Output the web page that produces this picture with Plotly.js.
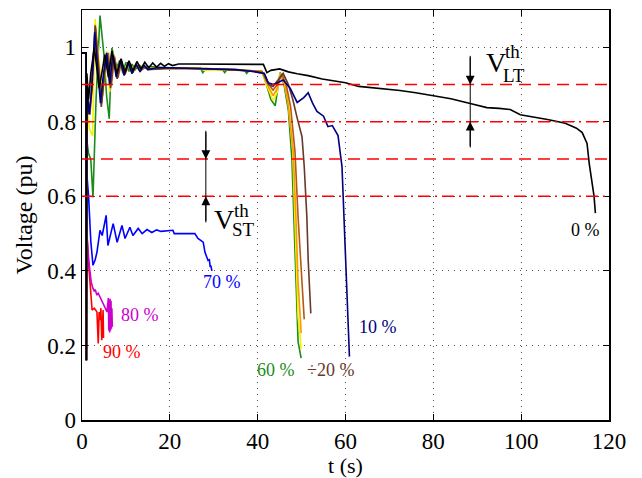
<!DOCTYPE html>
<html>
<head>
<meta charset="utf-8">
<script src="https://cdn.plot.ly/plotly-3.0.1.min.js"></script>
<style>html,body{margin:0;padding:0;background:#fff;}#chart{width:642px;height:478px;}</style>
</head>
<body>
<div id="chart"></div>
<script>
// ---- data ----
const seriesNames = ['90 %', '80 %', '70 %', '60 %', '50 %', '40 %', '30 %', '20 %', '10 %', '0 %'];
const seriesColors = ['#ff0000', '#cc00cc', '#0000ff', '#1a8c1a', '#f2f200', '#ff9900', '#b35a10', '#66392b', '#000080', '#000000'];

const t90 = [0, 0.95, 1.0, 1.1, 1.5, 2.0, 2.3, 2.8, 3.4, 3.7, 3.9, 4.1, 4.3, 4.5, 4.7, 4.8, 4.9];
const v90 = [0.985, 0.985, 0.16, 0.5, 0.42, 0.33, 0.295, 0.3, 0.29, 0.205, 0.29, 0.268, 0.3, 0.214, 0.29, 0.295, 0.22];

const t80 = [0, 0.95, 1.0, 1.1, 1.6, 2.1, 2.5, 2.8, 3.0, 3.4, 3.7, 4.1, 4.5, 5.2, 5.7, 6.0, 6.1, 6.2, 6.3, 6.4, 6.5, 6.6, 6.7, 6.8, 6.9];
const v80 = [0.985, 0.985, 0.16, 0.5, 0.42, 0.37, 0.353, 0.345, 0.35, 0.335, 0.34, 0.33, 0.316, 0.303, 0.29, 0.327, 0.24, 0.32, 0.235, 0.325, 0.24, 0.32, 0.245, 0.3, 0.25];

const t70 = [0, 0.95, 1.0, 1.1, 1.5, 2.0, 2.5, 3.0, 3.4, 4.1, 4.6, 5.5, 5.9, 6.5, 7.1, 8.0, 9.1, 9.8, 10.9, 11.6, 12.8, 13.7, 14.8, 15.9, 17, 18, 20.7, 21, 25.7, 26.4, 27.6, 28.0, 28.7, 29.0, 29.2, 29.3, 29.6];
const v70 = [0.985, 0.985, 0.16, 0.66, 0.6, 0.48, 0.415, 0.43, 0.45, 0.509, 0.495, 0.549, 0.468, 0.5, 0.527, 0.477, 0.522, 0.487, 0.517, 0.495, 0.514, 0.5, 0.511, 0.503, 0.51, 0.506, 0.509, 0.5, 0.5, 0.487, 0.477, 0.45, 0.428, 0.43, 0.41, 0.415, 0.40];

const t60 = [0, 0.95, 1.0, 1.1, 1.5, 2.0, 2.5, 3.2, 4.1, 5.0, 5.6, 6.2, 6.8, 7.9, 8.6, 9.3, 10.0, 10.7, 11.4, 12.1, 13, 14, 15, 20, 27, 27.5, 28.2, 32, 32.5, 33, 37, 37.5, 38, 41, 42, 43, 44, 45.1, 46, 47, 47.8, 49, 49.2, 49.9];
const v60 = [0.985, 0.985, 0.16, 0.75, 0.715, 0.7, 0.597, 0.86, 1.085, 0.98, 0.87, 0.808, 0.998, 0.946, 0.965, 0.93, 0.96, 0.935, 0.955, 0.94, 0.952, 0.943, 0.948, 0.945, 0.944, 0.932, 0.943, 0.94, 0.932, 0.94, 0.938, 0.93, 0.937, 0.935, 0.9, 0.86, 0.843, 0.932, 0.9, 0.83, 0.7, 0.32, 0.21, 0.166];

const t50 = [0, 0.95, 1.0, 1.1, 1.7, 2.4, 3.0, 3.7, 4.8, 5.6, 6.3, 7.0, 7.9, 8.7, 9.5, 10.4, 11.3, 12.2, 13.1, 14, 15, 20, 27, 28, 32, 37, 41, 42, 43.5, 44.5, 45.1, 46, 47, 48, 48.6, 49.2, 49.7, 49.9];
const v50 = [0.985, 0.985, 0.16, 0.85, 0.78, 0.763, 1.076, 0.98, 0.87, 0.99, 0.88, 0.985, 0.925, 0.965, 0.93, 0.958, 0.935, 0.952, 0.94, 0.95, 0.943, 0.944, 0.943, 0.938, 0.94, 0.938, 0.935, 0.9, 0.857, 0.88, 0.93, 0.905, 0.85, 0.72, 0.5, 0.276, 0.22, 0.19];

const t40 = [0, 0.95, 1.0, 1.1, 1.8, 2.4, 3.0, 3.7, 4.5, 5.3, 5.9, 6.6, 7.3, 8.1, 8.9, 9.7, 10.6, 11.5, 12.4, 13.3, 14.2, 15, 20, 30, 35, 41, 42, 43.5, 44.5, 45.2, 46.2, 47, 48.1, 48.7, 49.2, 49.7, 49.9];
const v40 = [0.985, 0.985, 0.16, 0.86, 0.82, 0.9, 1.06, 0.96, 0.86, 0.95, 0.985, 0.9, 0.975, 0.92, 0.962, 0.928, 0.957, 0.933, 0.952, 0.938, 0.949, 0.942, 0.944, 0.942, 0.94, 0.935, 0.905, 0.87, 0.89, 0.93, 0.9, 0.84, 0.72, 0.55, 0.37, 0.276, 0.233];

const t30 = [0, 0.95, 1.0, 1.1, 1.8, 2.5, 3.1, 3.8, 4.5, 5.2, 6.0, 6.7, 7.4, 8.2, 9.0, 9.8, 10.7, 11.6, 12.5, 13.4, 14.3, 15.2, 20, 30, 35, 41, 42, 43.5, 44.5, 45.5, 46.5, 47.5, 48.5, 49.2, 49.7, 50.1, 50.4, 50.6];
const v30 = [0.985, 0.985, 0.16, 0.87, 0.83, 0.95, 1.05, 0.95, 0.85, 0.94, 0.985, 0.9, 0.975, 0.918, 0.962, 0.927, 0.957, 0.932, 0.952, 0.937, 0.948, 0.941, 0.944, 0.942, 0.94, 0.935, 0.91, 0.885, 0.9, 0.928, 0.9, 0.84, 0.72, 0.545, 0.45, 0.37, 0.32, 0.27];

const t20 = [0, 0.95, 1.0, 1.1, 1.8, 2.4, 3.0, 3.7, 4.4, 5.1, 5.8, 6.5, 7.2, 8.0, 8.8, 9.6, 10.5, 11.4, 12.3, 13.2, 14.1, 15, 20, 25, 30, 35, 39, 41.5, 42.5, 43.5, 44.5, 45.8, 47, 48, 49, 50.1, 50.6, 51.2, 51.5, 51.9, 52.1];
const v20 = [0.985, 0.985, 0.16, 0.88, 0.82, 0.95, 1.058, 0.95, 0.84, 0.93, 0.98, 0.89, 0.975, 0.915, 0.962, 0.925, 0.958, 0.93, 0.953, 0.935, 0.95, 0.94, 0.944, 0.943, 0.941, 0.939, 0.935, 0.93, 0.9, 0.895, 0.91, 0.93, 0.9, 0.86, 0.81, 0.76, 0.68, 0.545, 0.43, 0.33, 0.286];

const t10 = [0, 0.95, 1.0, 1.1, 1.6, 2.2, 2.9, 3.5, 4.2, 4.9, 5.6, 6.3, 7.0, 7.8, 8.7, 9.6, 10.5, 11.4, 12.3, 13.2, 14.1, 15, 17, 20, 25, 30, 35, 39, 41.5, 42.4, 43.5, 44.5, 45.8, 47.4, 49, 50.5, 51.5, 52.5, 53.5, 55, 56, 57, 58.3, 59.2, 59.9, 60.6, 60.9];
const v10 = [0.985, 0.985, 0.16, 0.9, 0.82, 0.88, 1.04, 0.96, 0.85, 0.93, 0.985, 0.9, 0.98, 0.92, 0.965, 0.925, 0.96, 0.93, 0.955, 0.935, 0.952, 0.94, 0.945, 0.945, 0.944, 0.942, 0.94, 0.935, 0.93, 0.905, 0.9, 0.905, 0.912, 0.89, 0.852, 0.865, 0.878, 0.85, 0.828, 0.815, 0.787, 0.79, 0.763, 0.68, 0.48, 0.30, 0.17];

const t00 = [0, 0.95, 1.0, 1.1, 1.5, 2.0, 2.8, 3.3, 3.9, 4.5, 5.2, 6.0, 6.8, 7.9, 8.9, 9.8, 10.7, 11.6, 12.5, 13.4, 14.3, 15.2, 16.1, 17, 17.9, 18.8, 19.7, 20.6, 22, 25, 30, 35, 40, 41.3, 42.1, 43, 45, 47, 49, 51.5, 54.7, 58, 60, 63, 66, 70, 72.4, 76, 80, 84, 88.4, 92.2, 95, 97.5, 99.8, 102, 104.3, 106, 108.2, 110, 111.2, 112.6, 113.9, 115, 115.5, 116.2, 116.6, 116.9];
const v00 = [0.985, 0.985, 0.16, 0.93, 0.86, 0.93, 1.0, 0.95, 0.89, 0.93, 0.98, 0.92, 0.99, 0.93, 0.969, 0.932, 0.964, 0.937, 0.962, 0.942, 0.96, 0.945, 0.958, 0.947, 0.957, 0.949, 0.956, 0.951, 0.955, 0.955, 0.955, 0.955, 0.955, 0.954, 0.932, 0.938, 0.942, 0.934, 0.929, 0.924, 0.915, 0.91, 0.905, 0.895, 0.892, 0.888, 0.884, 0.878, 0.870, 0.862, 0.849, 0.838, 0.836, 0.833, 0.819, 0.815, 0.809, 0.806, 0.801, 0.796, 0.79, 0.783, 0.771, 0.742, 0.688, 0.635, 0.6, 0.555];

const seriesT = [t90, t80, t70, t60, t50, t40, t30, t20, t10, t00];
const seriesV = [v90, v80, v70, v60, v50, v40, v30, v20, v10, v00];

const thresholds = [0.9, 0.8, 0.7, 0.6];
const thresholdDash = ['12px,7px', '12px,5px,2px,5px', '12px,7px', '12px,5px,2px,5px'];

const xTicks = [0, 20, 40, 60, 80, 100, 120];
const yTicks = [0, 0.2, 0.4, 0.6, 0.8, 1];
const yTickText = ['0', '0.2', '0.4', '0.6', '0.8', '1'];

// ---- build ----
const FONT = 'Liberation Serif, Times New Roman, serif';
const traces = seriesNames.map((n, i) => ({
  type: 'scatter', mode: 'lines', name: n,
  x: seriesT[i], y: seriesV[i],
  line: {color: seriesColors[i], width: 1.6},
  hoverinfo: 'skip'
}));

const shapes = thresholds.map((th, i) => ({
  type: 'line', xref: 'x', yref: 'y', x0: 0, x1: 120, y0: th, y1: th,
  line: {color: '#ff0000', width: 1.5, dash: thresholdDash[i]}, layer: 'above'
}));
// vertical lines of the threshold-band markers
shapes.push({type: 'line', xref: 'x', yref: 'y', x0: 28.2, x1: 28.2, y0: 0.53, y1: 0.776, line: {color: '#000', width: 1}, layer: 'above'});
shapes.push({type: 'line', xref: 'x', yref: 'y', x0: 88.4, x1: 88.4, y0: 0.731, y1: 0.977, line: {color: '#000', width: 1}, layer: 'above'});

function arrow(x, y, ay) {
  return {x: x, y: y, xref: 'x', yref: 'y', ax: x, ay: ay, axref: 'x', ayref: 'y', text: '',
    showarrow: true, arrowhead: 2, arrowsize: 1.6, arrowwidth: 1.1, arrowcolor: '#000'};
}
function label(txt, x, y, color, size) {
  return {x: x, y: y, xref: 'x', yref: 'y', text: txt, showarrow: false,
    font: {family: FONT, size: size || 18, color: color}, xanchor: 'center', yanchor: 'middle'};
}

const annotations = [
  arrow(28.2, 0.7, 0.776), arrow(28.2, 0.6, 0.53),
  arrow(88.4, 0.9, 0.977), arrow(88.4, 0.8, 0.731),
  label('V', 32.3, 0.538, '#000', 28),
  label('th', 36.4, 0.562, '#000', 19),
  label('ST', 36.7, 0.511, '#000', 19),
  label('V', 94.2, 0.958, '#000', 28),
  label('th', 98.0, 0.99, '#000', 19),
  label('LT', 98.4, 0.924, '#000', 19),
  label('0 %', 114.7, 0.509, '#000'),
  label('10 %', 67.5, 0.249, '#000080'),
  label('÷20 %', 56.5, 0.134, '#66392b'),
  label('60 %', 44.2, 0.134, '#1a8c1a'),
  label('70 %', 31.8, 0.37, '#0000ff'),
  label('80 %', 13.2, 0.281, '#cc00cc'),
  label('90 %', 9.1, 0.182, '#ff0000')
];

const axisCommon = {
  showline: true, linecolor: '#000', linewidth: 1.5, mirror: 'ticks',
  ticks: 'inside', ticklen: 6, tickwidth: 1, tickcolor: '#000',
  showgrid: true, gridcolor: '#555', gridwidth: 1, griddash: '1px,5px',
  zeroline: false, tickfont: {family: FONT, size: 23, color: '#000'}
};

const layout = {
  width: 642, height: 478,
  margin: {l: 82, r: 33, t: 10, b: 58},
  paper_bgcolor: '#fff', plot_bgcolor: '#fff',
  showlegend: false,
  xaxis: Object.assign({}, axisCommon, {
    range: [0, 120], tickvals: xTicks,
    title: {text: 't (s)', font: {family: FONT, size: 22, color: '#000'}, standoff: 6}
  }),
  yaxis: Object.assign({}, axisCommon, {
    range: [0, 1.1], tickvals: yTicks, ticktext: yTickText,
    title: {text: 'Voltage (pu)', font: {family: FONT, size: 24, color: '#000'}, standoff: 8}
  }),
  shapes: shapes,
  annotations: annotations
};

Plotly.newPlot('chart', traces, layout, {staticPlot: true, displayModeBar: false});
</script>
</body>
</html>
